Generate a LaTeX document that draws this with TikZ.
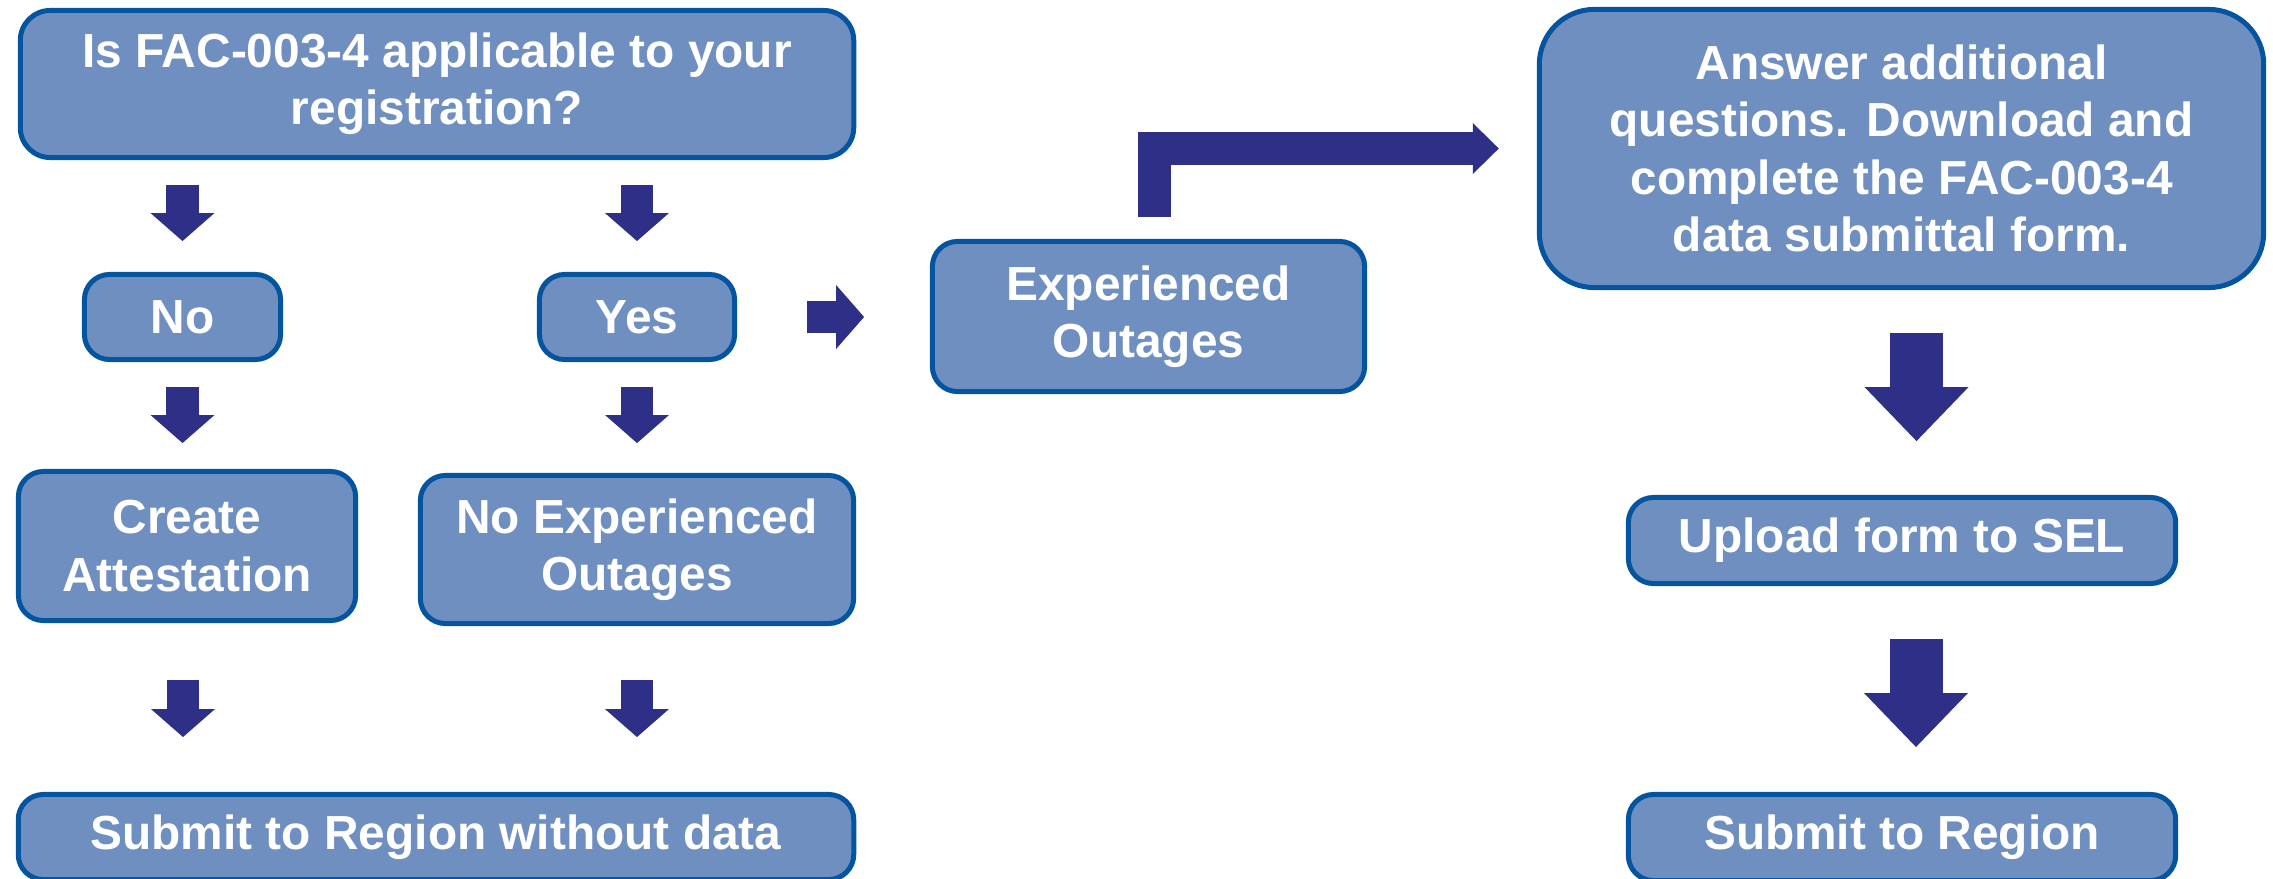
\documentclass[tikz,border=0pt]{standalone}
\usepackage{fontspec}
\setmainfont{Liberation Sans}
\usepackage{tikz}
\usetikzlibrary{arrows.meta,positioning,calc}
\definecolor{boxfill}{RGB}{111,143,192}
\definecolor{boxline}{RGB}{4,84,160}
\definecolor{arrowblue}{RGB}{46,48,135}

\begin{document}
\begin{tikzpicture}[x=0.01cm,y=-0.01cm,
    box/.style={draw=boxline, fill=boxfill, line width=0.5mm, rounded corners=2.5mm,
        align=center, text=white, inner sep=0pt,
        font=\fontsize{13.6}{16.3}\selectfont\bfseries},
    smallarrow/.style={draw=arrowblue, line width=3.2mm,
        -{Triangle[width=6.4mm,length=2.8mm,line width=0pt]}},
    bigarrow/.style={draw=arrowblue, line width=5.3mm,
        -{Triangle[width=10.4mm,length=5.4mm,line width=0pt]}},
    bentarrow/.style={draw=arrowblue, line width=3.3mm, line join=miter,
        -{Triangle[width=5.1mm,length=2.6mm,line width=0pt]}}
    ]
    \useasboundingbox (0,0) rectangle (2273,879);

    % left part
    \node[box, rounded corners=3mm, minimum width=8.33cm, minimum height=1.47cm] (question) at (437,84) {Is FAC-003-4 applicable to your\\registration?};
    \node[box, minimum width=1.96cm, minimum height=0.85cm] (no) at (182.5,317) {No};
    \node[box, minimum width=1.95cm, minimum height=0.85cm] (yes) at (637,317) {Yes};
    \node[box, minimum width=3.37cm, minimum height=1.49cm] (attest) at (187,546) {Create\\Attestation};
    \node[box, minimum width=4.33cm, minimum height=1.48cm] (noout) at (637,549.5) {No Experienced\\Outages};
    \node[box, minimum width=8.35cm, minimum height=0.85cm] (nodata) at (436,837) {Submit to Region without data};

    % right part
    \node[box, minimum width=4.32cm, minimum height=1.50cm] (outages) at (1148.5,316.5) {Experienced\\Outages};
    \node[box, rounded corners=5.5mm, minimum width=7.24cm, minimum height=2.78cm] (answer) at (1901.5,148.5) {Answer additional\\questions. Download and\\complete the FAC-003-4\\data submittal form.};
    \node[box, minimum width=5.47cm, minimum height=0.86cm] (upload) at (1902,540.5) {Upload form to SEL};
    \node[box, minimum width=5.47cm, minimum height=0.86cm] (region) at (1902,837.5) {Submit to Region};

    % arrows
    \draw[smallarrow] ($(no.north|-question.south)+(0,25)$) -- ++(0,56);
    \draw[smallarrow] ($(yes.north|-question.south)+(0,25)$) -- ++(0,56);
    \draw[smallarrow] ($(no.south)+(0,25)$) -- ++(0,56);
    \draw[smallarrow] ($(yes.south)+(0,25)$) -- ++(0,56);
    \draw[smallarrow] ($(attest.south)+(-4,57)$) -- ++(0,57);
    \draw[smallarrow] ($(noout.south)+(0,54)$) -- ++(0,57);
    \draw[smallarrow] ($(yes.east)+(70,0)$) -- ++(57,0);
    \draw[bentarrow] ($(outages.north)+(6,-22)$) |- ($(answer.west)+(-38,0)$);
    \draw[bigarrow] ($(answer.south)+(15,43)$) -- ++(0,108);
    \draw[bigarrow] ($(upload.south)+(14,53)$) -- ++(0,108);
\end{tikzpicture}
\end{document}
